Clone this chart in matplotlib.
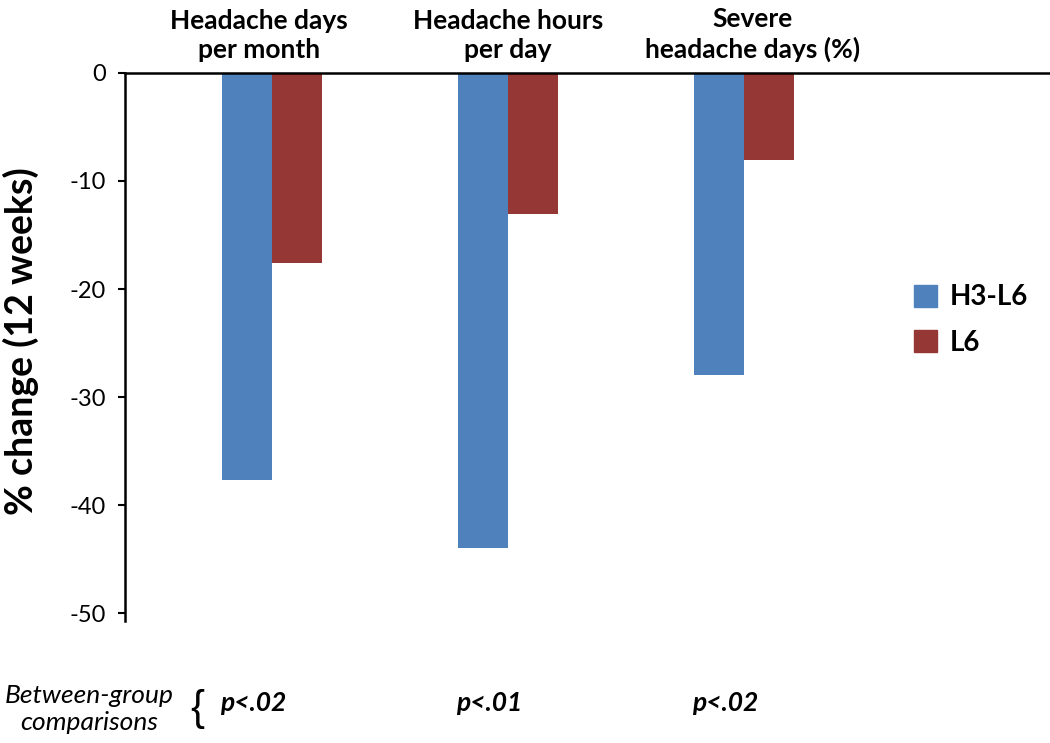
import matplotlib.pyplot as plt
from matplotlib.patches import Patch
import numpy as np

plt.rcParams['font.family'] = ['Lato', 'DejaVu Sans']
plt.rcParams['axes.unicode_minus'] = False

categories = ['Headache days\nper month', 'Headache hours\nper day', 'Severe\nheadache days (%)']
h3_l6 = [-37.7, -44.0, -28.0]
l6 = [-17.6, -13.1, -8.1]
p_values = ['p<.02', 'p<.01', 'p<.02']
series_names = ['H3-L6', 'L6']

blue = '#4F81BD'
red = '#953735'

fig = plt.figure(figsize=(10.5, 7.43), dpi=100)
ax = fig.add_axes([0.119, 0.1647, 0.881, 0.7371])

x = np.arange(len(categories))
w = 0.212
ax.bar(x - w / 2, h3_l6, width=w, color=blue)
ax.bar(x + w / 2, l6, width=w, color=red)

ax.set_xlim(-0.623, 3.297)
ax.set_ylim(-50.7, 0)
ax.set_yticks([0, -10, -20, -30, -40, -50])
ax.set_xticks([])
ax.spines['right'].set_visible(False)
ax.spines['bottom'].set_visible(False)
ax.spines['top'].set_linewidth(1.8)
ax.spines['left'].set_linewidth(1.8)
ax.tick_params(axis='y', labelsize=17, length=5, width=1.5, pad=9)
ax.set_ylabel('% change (12 weeks)', fontsize=27, fontweight='bold')
ax.yaxis.set_label_coords(-0.093, 0.51)

# category titles above the axis (slightly shifted, as in the original)
title_shift = [-0.055, 0.0, 0.038]
for xi, cat, s in zip(x, categories, title_shift):
    ax.text(xi + s, 1.02, cat, transform=ax.get_xaxis_transform(), ha='center', va='bottom',
            fontsize=19, fontweight='bold', linespacing=1.25)

# p-values below
for xi, p in zip(x, p_values):
    ax.text(xi - w - 0.01, -0.15, p, transform=ax.get_xaxis_transform(), ha='left', va='center',
            fontsize=19, fontweight='bold', style='italic')

fig.text(0.085, 0.0458, 'Between-group\ncomparisons', ha='center', va='center',
         fontsize=19, style='italic', linespacing=1.2)
fig.text(0.188, 0.046, '{', ha='center', va='center', fontsize=30, family='Liberation Sans')

handles = [Patch(color=blue, label=series_names[0]), Patch(color=red, label=series_names[1])]
leg = ax.legend(handles=handles, loc='upper left', bbox_to_anchor=(0.857, 0.636),
                bbox_transform=fig.transFigure, frameon=False, borderpad=0,
                handlelength=0.85, handleheight=0.85, labelspacing=0.7, handletextpad=0.45,
                prop={'size': 20, 'weight': 'bold'})

fig.savefig('out.png', dpi=100)
